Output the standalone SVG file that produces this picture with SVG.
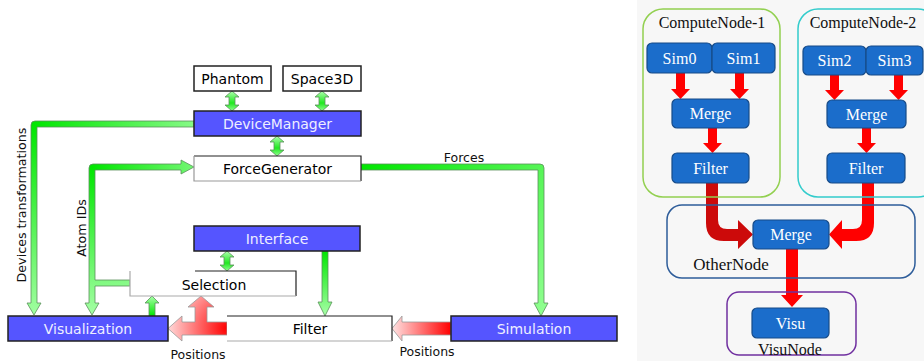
<svg xmlns="http://www.w3.org/2000/svg" width="924" height="361" viewBox="0 0 924 361">
<style>
.bl{fill:#5555ff;stroke:#222;stroke-width:1.5}
.wh{fill:#fff;stroke:#222;stroke-width:1.5}
.t{font-family:"DejaVu Sans",sans-serif;font-size:14px;text-anchor:middle}
.tw{fill:#eef}
.lb{font-family:"DejaVu Sans",sans-serif;font-size:12.5px;text-anchor:middle;fill:#111}
.ga{stroke:#5c8f5c;stroke-width:0.8}
.ra{stroke:#999;stroke-width:0.8}
.nd{fill:#1b6dcb;stroke:#174b88;stroke-width:1.2}
.st{font-family:"Liberation Serif",serif;font-size:16px;fill:#fff;text-anchor:middle}
.gt{font-family:"Liberation Serif",serif;font-size:16px;fill:#111;text-anchor:middle}
.rd{fill:#ff0000}
</style>
<defs>
<radialGradient id="gDev" gradientUnits="userSpaceOnUse" cx="34" cy="124" r="200">
<stop offset="0" stop-color="#00e600"/><stop offset="1" stop-color="#a8ffa8"/>
</radialGradient>
<radialGradient id="gAtom" gradientUnits="userSpaceOnUse" cx="92" cy="167" r="150">
<stop offset="0" stop-color="#00e600"/><stop offset="1" stop-color="#a8ffa8"/>
</radialGradient>
<linearGradient id="gForce" gradientUnits="userSpaceOnUse" x1="361" y1="167" x2="541" y2="316">
<stop offset="0" stop-color="#00e600"/><stop offset="1" stop-color="#90ff90"/>
</linearGradient>
<linearGradient id="gDown" x1="0" y1="0" x2="0" y2="1">
<stop offset="0" stop-color="#00e600"/><stop offset="1" stop-color="#a8ffa8"/>
</linearGradient>
<linearGradient id="gUp" x1="0" y1="1" x2="0" y2="0">
<stop offset="0" stop-color="#00e600"/><stop offset="1" stop-color="#a8ffa8"/>
</linearGradient>
<linearGradient id="gDbl" x1="0" y1="0" x2="0" y2="1">
<stop offset="0" stop-color="#b0ffb0"/><stop offset="0.6" stop-color="#20e820"/><stop offset="1" stop-color="#90ff90"/>
</linearGradient>
<linearGradient id="gRed1" gradientUnits="userSpaceOnUse" x1="451" y1="0" x2="392" y2="0">
<stop offset="0" stop-color="#ff0000"/><stop offset="1" stop-color="#ffe4e4"/>
</linearGradient>
<radialGradient id="gRed2" gradientUnits="userSpaceOnUse" cx="227" cy="328" r="62">
<stop offset="0" stop-color="#ff0000"/><stop offset="1" stop-color="#ffe4e4"/>
</radialGradient>
</defs>

<rect x="637" y="0" width="287" height="361" fill="#f7f7f7"/>

<g id="connectors">
<path class="ga" fill="url(#gDev)" d="M194,121 H35 Q31,121 31,125 V303 H27 L34,315 L41,303 H37 V127 H194 Z"/>
<path class="ga" fill="url(#gAtom)" d="M89,303 V168 Q89,164 93,164 H181 V160 L194,167 L181,174 V170 H95 V280 H130 V286 H95 V303 H99 L92,315 L85,303 Z"/>
<path class="ga" fill="url(#gForce)" d="M361,164 H540 Q544,164 544,168 V303 H548 L541,316 L534,303 H538 V170 H361 Z"/>
<path class="ga" fill="url(#gDown)" d="M322,251 H328 V302 H332 L325,316 L318,302 H322 Z"/>
<path class="ga" fill="url(#gUp)" d="M149,316 V303 H145 L152,296 L159,303 H155 V316 Z"/>
<path class="ga" fill="url(#gDbl)" d="M232,91 L239,97 H235 V105 H239 L232,111 L225,105 H229 V97 H225 Z"/>
<path class="ga" fill="url(#gDbl)" d="M322,91 L329,97 H325 V105 H329 L322,111 L315,105 H319 V97 H315 Z"/>
<path class="ga" fill="url(#gDbl)" d="M277,136 L284,142 H280 V150 H284 L277,156 L270,150 H274 V142 H270 Z"/>
<path class="ga" fill="url(#gDbl)" d="M227,251 L234,257 H230 V265 H234 L227,271 L220,265 H224 V257 H220 Z"/>
<path class="ra" fill="url(#gRed1)" d="M451,322 H402 V316 L392,328.5 L402,341 V335 H451 Z"/>
<path class="ra" fill="url(#gRed2)" d="M227,322 H207 V307 H214 L201,296 L188,307 H195 V322 H182 V316 L168,328.5 L182,341 V335 H227 Z"/>

<text class="lb" x="464" y="162">Forces</text>
<text class="lb" x="198" y="359">Positions</text>
<text class="lb" x="427" y="356">Positions</text>
<text class="lb" style="font-size:12.7px" transform="translate(26,205) rotate(-90)">Devices transformations</text>
<text class="lb" style="font-size:12.7px" transform="translate(86,228) rotate(-90)">Atom IDs</text>

<path class="rd" d="M676,68 H685 V89 H690 L680.5,99 L671,89 H676 Z"/>
<path class="rd" d="M735,68 H744 V89 H749 L739.5,99 L730,89 H735 Z"/>
<path class="rd" d="M708,123 H717 V143 H722 L712.5,153 L703,143 H708 Z"/>
<path class="rd" d="M830,70 H839 V90 H844 L834.5,100 L825,90 H830 Z"/>
<path class="rd" d="M894,70 H903 V90 H908 L898.5,100 L889,90 H894 Z"/>
<path class="rd" d="M862,123 H871 V143 H876 L866.5,153 L857,143 H862 Z"/>
<path fill="#cc0a0a" d="M706,183 H718 V220 Q718,229 727,229 H738 V220 L753,234.5 L738,249 V241 H724 Q706,241 706,223 Z"/>
<path class="rd" d="M874,183 H862 V220 Q862,229 853,229 H842 V220 L829,234.5 L842,249 V241 H856 Q874,241 874,223 Z"/>
<path class="rd" d="M786,249 H798 V295 H803 L792,307 L781,295 H786 Z"/>
</g>

<g id="phantom"><rect class="wh" x="194" y="66" width="77" height="25"/><text class="t" x="232.5" y="83.5">Phantom</text></g>
<g id="space3d"><rect class="wh" x="283" y="66" width="78" height="25"/><text class="t" x="322" y="83.5">Space3D</text></g>
<g id="devicemanager"><rect class="bl" x="194" y="111" width="167" height="25"/><text class="t tw" x="277.5" y="128.5">DeviceManager</text></g>
<g id="forcegenerator">
<rect x="194" y="156" width="167" height="25" fill="#fff"/>
<path d="M194,156 H361 V181" fill="none" stroke="#222" stroke-width="1.2"/>
<path d="M361,181 H194 V156" fill="none" stroke="#999" stroke-width="1.2"/>
<text class="t" x="277.5" y="173.5">ForceGenerator</text>
</g>
<g id="interface"><rect class="bl" x="194" y="226" width="166" height="25"/><text class="t tw" x="277" y="243.5">Interface</text></g>
<g id="selection">
<rect x="130" y="271" width="166" height="25" fill="#fff"/>
<path d="M195,271 H296 V296" fill="none" stroke="#222" stroke-width="1.2"/>
<path d="M296,296 H130 V271" fill="none" stroke="#aaa" stroke-width="1.2"/>
<text class="t" x="214" y="290">Selection</text>
</g>
<g id="visualization"><rect class="bl" x="8" y="316" width="160" height="25"/><text class="t tw" x="88" y="333.5">Visualization</text></g>
<g id="filter">
<rect x="227" y="316" width="165" height="25" fill="#fff"/>
<path d="M227,316 H392 V341" fill="none" stroke="#222" stroke-width="1.2"/>
<path d="M392,341 H227" fill="none" stroke="#aaa" stroke-width="1.2"/>
<text class="t" x="310" y="333.5">Filter</text>
</g>
<g id="simulation"><rect class="bl" x="451" y="316" width="166" height="25"/><text class="t tw" x="534" y="333.5">Simulation</text></g>

<g id="computenode1"><rect x="643" y="9" width="137" height="188" rx="20" fill="none" stroke="#92d050" stroke-width="1.5"/><text class="gt" x="712" y="28">ComputeNode-1</text></g>
<g id="computenode2"><rect x="798" y="9" width="140" height="188" rx="20" fill="none" stroke="#33cccc" stroke-width="1.5"/><text class="gt" x="863" y="28">ComputeNode-2</text></g>
<g id="othernode"><rect x="667" y="205" width="248" height="73" rx="15" fill="none" stroke="#2e5d9a" stroke-width="1.5"/><text class="gt" style="font-size:17px" x="731" y="270">OtherNode</text></g>
<g id="visunode"><rect x="727" y="292" width="129" height="63" rx="12" fill="none" stroke="#7030a0" stroke-width="1.5"/><text class="gt" x="790" y="355">VisuNode</text></g>

<g id="sim0"><rect class="nd" x="647" y="43" width="65" height="30" rx="5"/><text class="st" x="679.5" y="63.5">Sim0</text></g>
<g id="sim1"><rect class="nd" x="712" y="43" width="63" height="30" rx="5"/><text class="st" x="743.5" y="63.5">Sim1</text></g>
<g id="merge1"><rect class="nd" x="672" y="99" width="77" height="29" rx="5"/><text class="st" x="710.5" y="119">Merge</text></g>
<g id="filter1"><rect class="nd" x="672" y="153" width="77" height="30" rx="5"/><text class="st" x="710.5" y="173.5">Filter</text></g>
<g id="sim2"><rect class="nd" x="803" y="46" width="63" height="29" rx="5"/><text class="st" x="834.5" y="66">Sim2</text></g>
<g id="sim3"><rect class="nd" x="866" y="46" width="57" height="29" rx="5"/><text class="st" x="894.5" y="66">Sim3</text></g>
<g id="merge2"><rect class="nd" x="827" y="100" width="79" height="28" rx="5"/><text class="st" x="866.5" y="119.5">Merge</text></g>
<g id="filter2"><rect class="nd" x="827" y="153" width="78" height="30" rx="5"/><text class="st" x="866" y="173.5">Filter</text></g>
<g id="merge3"><rect class="nd" x="753" y="220" width="76" height="29" rx="5"/><text class="st" x="791" y="240">Merge</text></g>
<g id="visu"><rect class="nd" x="752" y="308" width="77" height="30" rx="5"/><text class="st" x="790.5" y="328.5">Visu</text></g>
</svg>
